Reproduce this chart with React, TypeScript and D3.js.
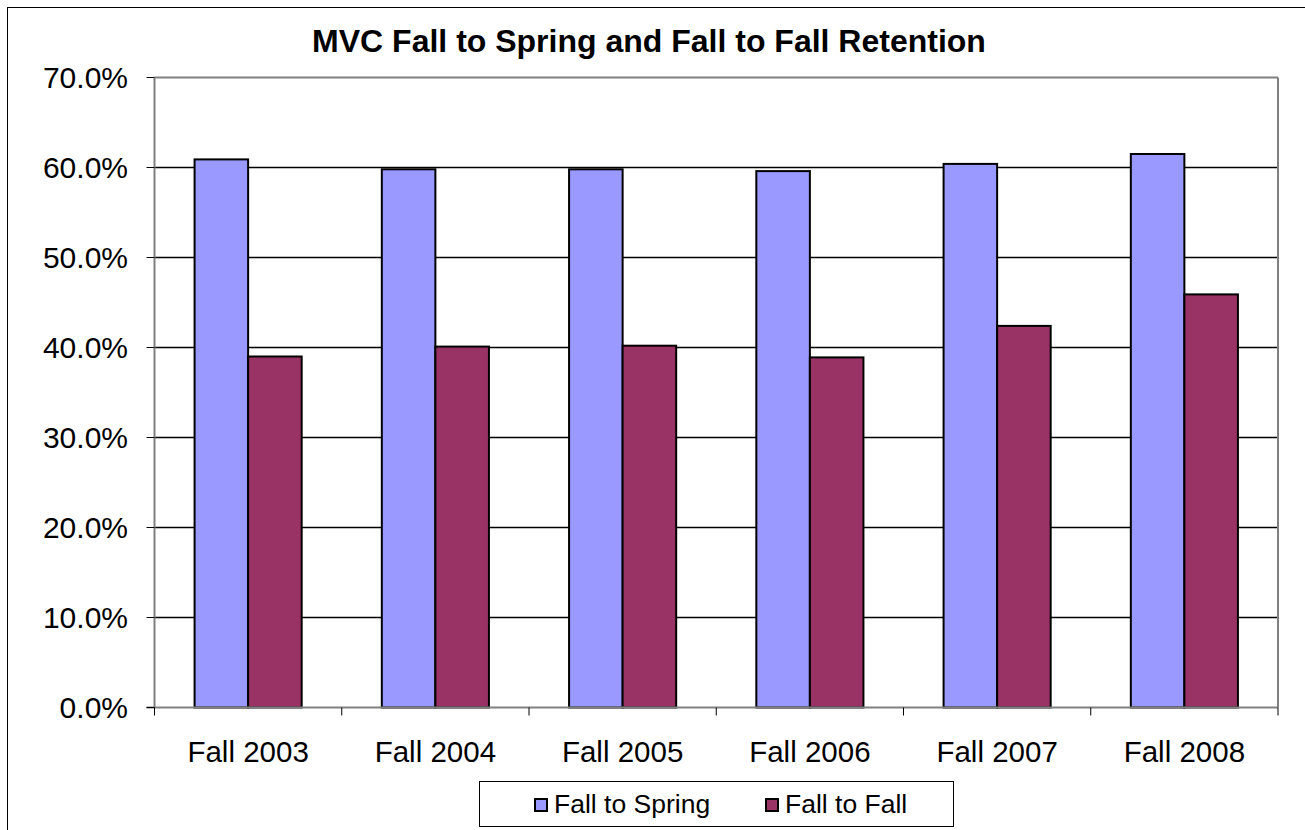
import React from 'react';
import * as d3 from 'd3';

const categories = ['Fall 2003', 'Fall 2004', 'Fall 2005', 'Fall 2006', 'Fall 2007', 'Fall 2008'];
const seriesNames = ['Fall to Spring', 'Fall to Fall'];
const fallToSpring = [60.9, 59.8, 59.8, 59.6, 60.4, 61.5];
const fallToFall = [39.0, 40.1, 40.2, 38.9, 42.4, 45.9];
const yTicks = [0, 10, 20, 30, 40, 50, 60, 70];
const colors = ['#9999FF', '#993366'];

const W = 1305;
const H = 830;
const left = 154.5;
const right = 1278;
const top = 77.5;
const bottom = 707.5;
const font = 'Arial, "Liberation Sans", sans-serif';

const App = () => {
  const x = d3.scaleBand().domain(categories).range([left, right]).padding(0);
  const bw = x.bandwidth();
  const xs = d3.scaleBand().domain(seriesNames).range([bw * 0.214, bw * 0.786]).padding(0);
  const y = d3.scaleLinear().domain([0, 70]).range([bottom, top]);
  const values = [fallToSpring, fallToFall];

  return (
    <div style={{ position: 'absolute', left: 0, top: 0 }}>
      <svg width={W} height={H} style={{ display: 'block', background: '#fff' }}>
        <rect x={7.5} y={7.5} width={W + 20} height={H + 20} fill="#fff" stroke="#000" strokeWidth={1} />
        <text x={649} y={52} textAnchor="middle" fontFamily={font} fontWeight="bold" fontSize={32}>
          MVC Fall to Spring and Fall to Fall Retention
        </text>

        {/* gridlines */}
        {yTicks.slice(1, -1).map(t => (
          <line key={t} x1={left} x2={right} y1={y(t)} y2={y(t)} stroke="#000" strokeWidth={1.3} />
        ))}

        {/* bars */}
        {categories.map((c, i) => (
          <g key={c} transform={`translate(${x(c)},0)`}>
            {seriesNames.map((s, j) => (
              <rect key={s} x={xs(s)} y={y(values[j][i])} width={xs.bandwidth()}
                height={y(0) - y(values[j][i])} fill={colors[j]} stroke="#000" strokeWidth={2} />
            ))}
          </g>
        ))}

        {/* frame */}
        <line x1={left} x2={right} y1={top} y2={top} stroke="#808080" strokeWidth={2} />
        <line x1={right} x2={right} y1={top} y2={bottom} stroke="#808080" strokeWidth={2} />
        <line x1={left} x2={left} y1={top} y2={bottom} stroke="#808080" strokeWidth={2} />
        <line x1={left - 8} x2={right} y1={bottom} y2={bottom} stroke="#808080" strokeWidth={2} />

        {/* y axis */}
        {yTicks.map(t => (
          <g key={t}>
            <line x1={left - 8} x2={left} y1={y(t)} y2={y(t)} stroke="#000" strokeWidth={1} />
            <text x={128} y={y(t) + 10} textAnchor="end" fontFamily={font} fontSize={30}>
              {d3.format('.1f')(t) + '%'}
            </text>
          </g>
        ))}

        {/* x axis */}
        {[...categories.map(c => x(c)), right].map((v, i) => (
          <line key={i} x1={v} x2={v} y1={bottom} y2={bottom + 8} stroke="#000" strokeWidth={1} />
        ))}
        {categories.map(c => (
          <text key={c} x={(x(c) as number) + bw / 2} y={762} textAnchor="middle" fontFamily={font} fontSize={29.5}>
            {c}
          </text>
        ))}

        {/* legend */}
        <rect x={479.5} y={781.5} width={474} height={45} fill="#fff" stroke="#000" strokeWidth={1} />
        {seriesNames.map((s, j) => {
          const lx = [535, 766][j];
          return (
            <g key={s}>
              <rect x={lx} y={799} width={12} height={12} fill={colors[j]} stroke="#000" strokeWidth={2} />
              <text x={lx + 19} y={813} fontFamily={font} fontSize={26.5}>{s}</text>
            </g>
          );
        })}
      </svg>
    </div>
  );
};

export default App;
